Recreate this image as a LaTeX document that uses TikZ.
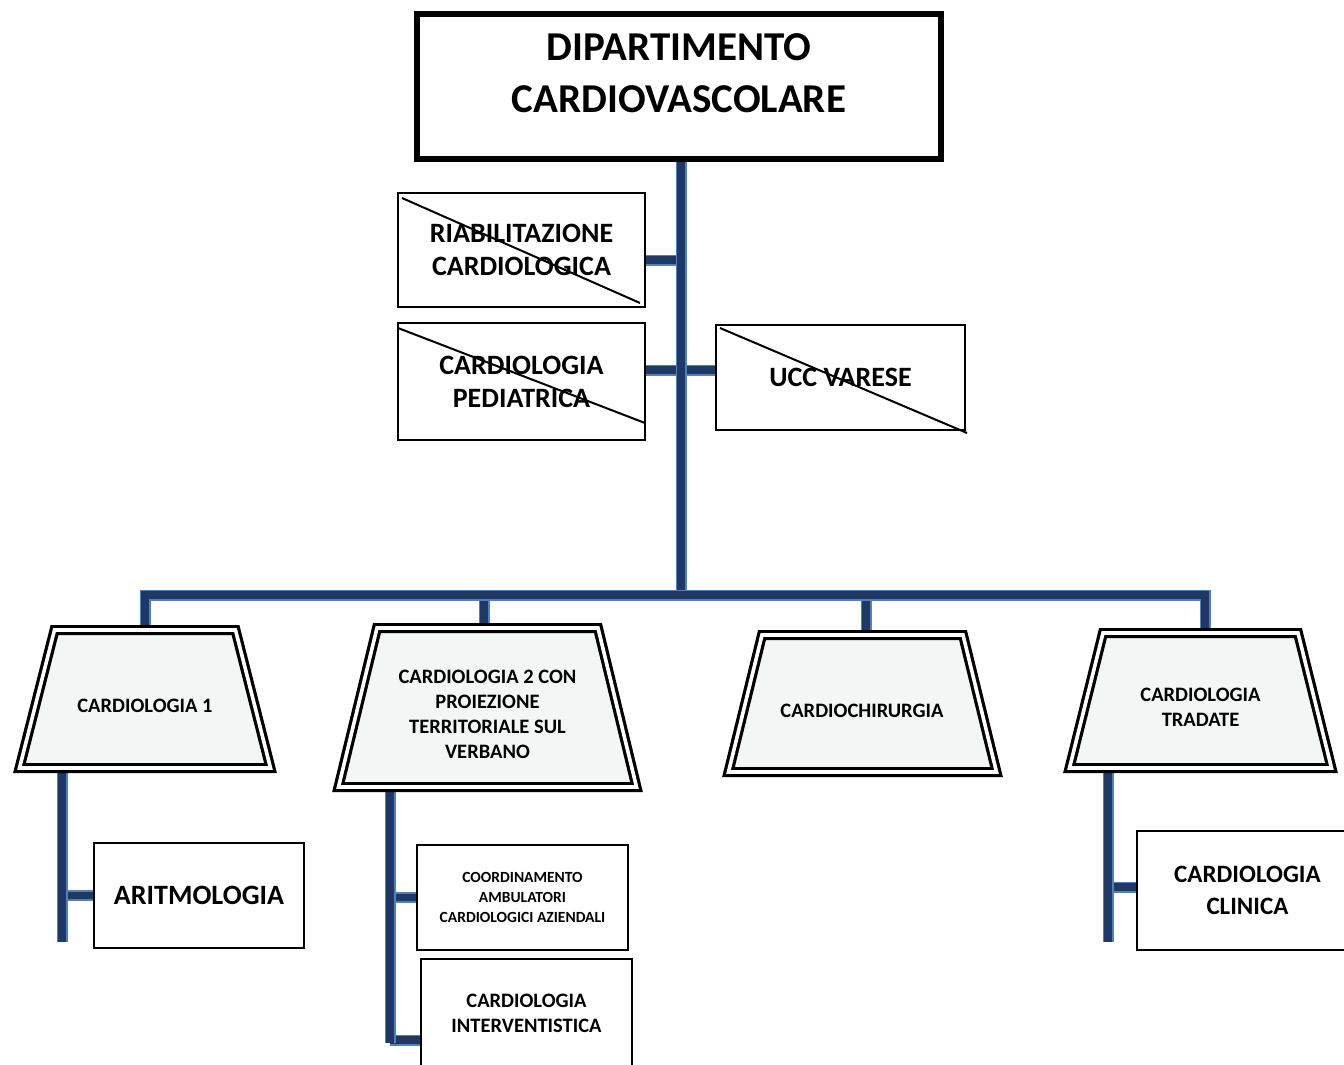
\documentclass[tikz,border=0pt]{standalone}
\usepackage{fontspec}
\setmainfont{Carlito}
\usetikzlibrary{calc,backgrounds}
\definecolor{conncore}{RGB}{32,56,100}
\definecolor{connedge}{RGB}{84,128,186}
\definecolor{trapfill}{RGB}{242,247,245}
\tikzset{
  conn/.style={draw=connedge, line width=1.8pt, double=conncore, double distance=7.4pt},
  box/.style={draw=black, line width=2pt, fill=white, align=center, inner sep=0pt, outer sep=0pt},
  trapline/.style={draw=black, line width=3.2pt, double=white, double distance=3.6pt, fill=trapfill, line join=miter},
  txt/.style={align=center, inner sep=0pt},
  cross/.style={draw=black, line width=2pt},
  fa/.style={font=\bfseries\fontsize{28}{33}\selectfont},
  fb/.style={font=\bfseries\fontsize{20.5}{25}\selectfont},
}
\begin{document}
\begin{tikzpicture}[x=1pt,y=-1pt]
\useasboundingbox (0,0) rectangle (1344,1065);
\clip (0,0) rectangle (1344,1065);

% top box
\node[draw=black, line width=6pt, fill=white, minimum width=524, minimum height=145, inner sep=0pt, outer sep=0pt] (top) at (679,86.5) {};
\node[txt, font=\bfseries\fontsize{41}{52}\selectfont] (toptext) at (679,73) {DIPARTIMENTO\\CARDIOVASCOLARE};

% crossed boxes
\node[box, fa, minimum width=247, minimum height=114] (riab) at (521.5,250) {RIABILITAZIONE\\CARDIOLOGICA};
\node[box, fa, minimum width=247, minimum height=117] (ped) at (521.5,381.5) {CARDIOLOGIA\\PEDIATRICA};
\node[box, fa, minimum width=249, minimum height=105] (ucc) at (840.5,377.5) {UCC VARESE};
\draw[cross] ($(riab.north west)+(4,5)$) -- ($(riab.south east)+(-5,-4)$);
\draw[cross] ($(ped.north west)+(0,5)$) -- ($(ped.south east)+(0,-17)$);
\draw[cross] ($(ucc.north west)+(4,3)$) -- ($(ucc.south east)+(2,3)$);

% trapezoids (double border)
\draw[trapline] (19.5,768) -- (54.5,630) coordinate[pos=0] (t1bl) -- (235.5,630) -- (270.5,768) -- cycle;
\coordinate (t1n) at (145,630);  \coordinate (t1s) at (145,768);
\draw[trapline] (338.5,787) -- (377,628) -- (598,628) -- (636.5,787) -- cycle;
\coordinate (t2n) at (487.5,628); \coordinate (t2s) at (487.5,787);
\draw[trapline] (728.5,772) -- (762,635) -- (963,635) -- (996.5,772) -- cycle;
\coordinate (t3n) at (862.5,635); \coordinate (t3s) at (862.5,772);
\draw[trapline] (1069.5,768) -- (1103,633) -- (1298,633) -- (1331.5,768) -- cycle;
\coordinate (t4n) at (1200.5,633); \coordinate (t4s) at (1200.5,768);

\node[txt, fb] (t1text) at (145,706) {CARDIOLOGIA 1};
\node[txt, fb] (t2text) at (487.5,714.5) {CARDIOLOGIA 2 CON\\PROIEZIONE\\TERRITORIALE SUL\\VERBANO};
\node[txt, fb] (t3text) at (862,711) {CARDIOCHIRURGIA};
\node[txt, fb] (t4text) at (1200.5,707.5) {CARDIOLOGIA\\TRADATE};

% child boxes
\node[box, fa, minimum width=210, minimum height=105] (arit) at (199,895.5) {ARITMOLOGIA};
\node[box, font=\bfseries\fontsize{15.5}{20}\selectfont, minimum width=211, minimum height=105] (coord) at (522.5,897.5) {COORDINAMENTO\\AMBULATORI\\CARDIOLOGICI AZIENDALI};
\node[box, fb, minimum width=211, minimum height=109] (inter) at (526.5,1013.5) {CARDIOLOGIA\\INTERVENTISTICA};
\node[box, font=\bfseries\fontsize{25}{32}\selectfont, minimum width=221, minimum height=119] (clin) at (1247.5,890.5) {CARDIOLOGIA\\CLINICA};

% connector coordinates
\coordinate (j1) at (681,260);
\coordinate (j2) at (681,370);
\coordinate (d1) at (145,595);
\coordinate (d2) at (484,595);
\coordinate (d3) at (866,595);
\coordinate (d4) at (1205,595);
\coordinate (e1) at (62,942);
\coordinate (e2) at (390,1043);
\coordinate (b2) at (390,1040);
\coordinate (e4) at (1108,942);
\coordinate (b4) at (1108,887);

\begin{pgfonlayer}{background}
  \draw[conn] (riab.east |- j1) -- (j1);
  \draw[conn] (ped.east |- j2) -- (ucc.west |- j2);
  \draw[conn] (top.south -| j1) -- (j1 |- d1);
  \draw[conn] (d2) -- (d2 |- t2n);
  \draw[conn] (d3) -- (d3 |- t3n);
  \draw[conn] (d1 |- t1n) -- (d1) -- (d4) -- (d4 |- t4n);
  \draw[conn] (arit.west -| e1) -- (arit.west);
  \draw[conn] (e1 |- t1s) -- (e1);
  \draw[conn] (coord.west -| e2) -- (coord.west);
  \draw[conn] (b2) -- (b2 -| inter.west);
  \draw[conn] (e2 |- t2s) -- (e2);
  \draw[conn] (b4) -- (b4 -| clin.west);
  \draw[conn] (e4 |- t4s) -- (e4);
\end{pgfonlayer}
\end{tikzpicture}
\end{document}
